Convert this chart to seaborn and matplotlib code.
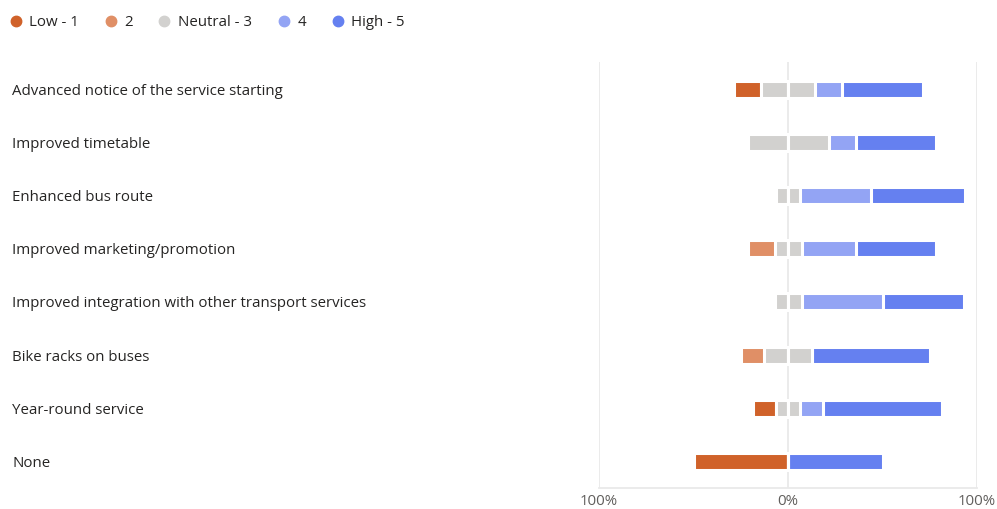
import matplotlib
matplotlib.use("Agg")
import matplotlib.pyplot as plt
from matplotlib.lines import Line2D
from matplotlib.transforms import blended_transform_factory
import numpy as np
import pandas as pd
import seaborn as sns

# Survey items and number of responses at each rating level
items = [
    "Advanced notice of the service starting",
    "Improved timetable",
    "Enhanced bus route",
    "Improved marketing/promotion",
    "Improved integration with other transport services",
    "Bike racks on buses",
    "Year-round service",
    "None",
]
low_1 = [1, 0, 0, 0, 0, 0, 1, 1]
rating_2 = [0, 0, 0, 1, 0, 1, 0, 0]
neutral_3 = [2, 3, 1, 1, 1, 2, 1, 0]
rating_4 = [1, 1, 3, 2, 3, 0, 1, 0]
high_5 = [3, 3, 4, 3, 3, 5, 5, 1]

level_names = ["Low - 1", "2", "Neutral - 3", "4", "High - 5"]
level_colors = ["#D0622A", "#E08F66", "#D2D1CF", "#93A4F4", "#6580F0"]
tick_values = [-100, 0, 100]
tick_labels = ["100%", "0%", "100%"]

counts = pd.DataFrame(
    {"item": items, "l1": low_1, "l2": rating_2, "l3": neutral_3,
     "l4": rating_4, "l5": high_5}
)
total = counts[["l1", "l2", "l3", "l4", "l5"]].sum(axis=1)
pct = counts[["l1", "l2", "l3", "l4", "l5"]].div(total, axis=0) * 100
pct["item"] = items

# Diverging layout: neutral split around zero, low ratings to the left
half_n = pct["l3"] / 2
layers = [
    (-(half_n + pct["l2"] + pct["l1"]), level_colors[0]),
    (-(half_n + pct["l2"]), level_colors[1]),
    (-half_n, level_colors[2]),
    (half_n + pct["l4"] + pct["l5"], level_colors[4]),
    (half_n + pct["l4"], level_colors[3]),
    (half_n, level_colors[2]),
]

sns.set_theme(style="white")
plt.rcParams["font.family"] = ["Open Sans", "DejaVu Sans"]

fig = plt.figure(figsize=(9.97, 5.09), dpi=100)
ax = fig.add_axes([599 / 997, 21 / 509, 378 / 997, 425.5 / 509])

for values, color in layers:
    sns.barplot(
        x=values.values, y=pct["item"].values, orient="h", color=color,
        saturation=1, width=0.32, errorbar=None, edgecolor="white",
        linewidth=2.2, ax=ax, zorder=3,
    )

ax.set_xlim(-100, 100)
ax.set_ylim(len(items) - 0.5, -0.5)
ax.set_xticks(tick_values)
ax.set_xticklabels(tick_labels, color="#605E5C", fontsize=10.8)
ax.tick_params(axis="x", length=0, pad=4.5)
ax.set_yticks([])
ax.set_xlabel("")
ax.set_ylabel("")
for v in tick_values:
    ax.axvline(v, color="#E9E9E9", linewidth=1.3, zorder=1)
for side in ["top", "left", "right"]:
    ax.spines[side].set_visible(False)
ax.spines["bottom"].set_color("#E9E9E9")
ax.spines["bottom"].set_linewidth(1.3)

# Item labels, left-aligned at the figure margin
trans = blended_transform_factory(fig.transFigure, ax.transData)
for i, name in enumerate(items):
    ax.text(12 / 997, i, name, transform=trans, ha="left",
            va="center_baseline", fontsize=10.8, color="#252423")

handles = [
    Line2D([0], [0], marker="o", linestyle="", markersize=7.5,
           markerfacecolor=c, markeredgecolor=c)
    for c in level_colors
]
fig.legend(
    handles, level_names, loc="upper left",
    bbox_to_anchor=(-4 / 997, 1.0 - 2 / 509),
    ncol=5, frameon=False, fontsize=10.8, handlelength=0.8,
    handletextpad=0.5, columnspacing=1.72, labelcolor="#252423",
)

fig.savefig("out.png", dpi=100)
